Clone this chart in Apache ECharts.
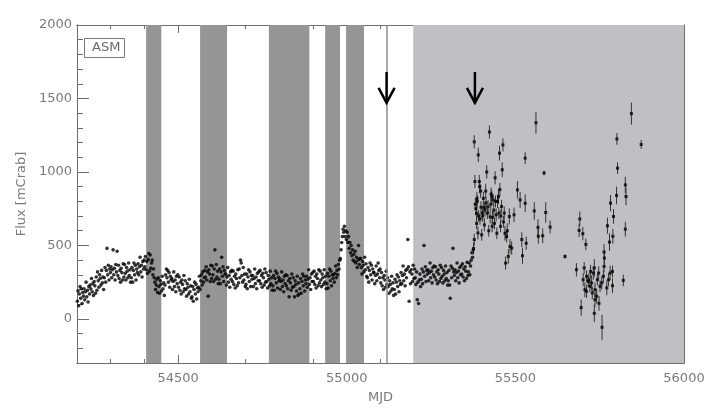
<!DOCTYPE html>
<html>
<head>
<meta charset="utf-8">
<script src="https://cdn.jsdelivr.net/npm/echarts@6/dist/echarts.min.js"></script>
<style>html,body{margin:0;padding:0;background:#fff}#c{width:708px;height:415px}</style>
</head>
<body>
<div id="c"></div>
<script>
// ---------- data ----------
// ASM light curve (one value every asmStep days starting at asmStart)
const asmStart = 54201, asmStep = 2;
const asmFlux = [
120,190,90,170,220,140,205,105,180,155,
205,130,185,250,150,195,115,220,170,230,
205,275,185,240,160,255,225,175,285,195,
320,260,215,300,275,230,330,245,285,200,
280,350,250,330,480,300,365,265,340,315,
355,280,335,470,300,345,265,370,320,460,
295,365,275,330,250,345,315,265,375,285,
370,310,265,350,325,280,380,295,335,250,
280,350,250,330,380,300,365,265,340,315,
375,300,355,420,320,365,285,390,340,400,
355,425,335,390,310,405,445,325,435,345,
380,400,300,340,280,250,200,230,270,180,
280,220,175,260,235,190,290,205,245,160,
230,300,340,280,330,250,315,215,290,265,
275,200,255,320,220,265,185,290,240,300,
215,285,195,250,170,265,235,185,295,205,
260,200,155,240,215,170,270,185,225,140,
150,220,120,200,250,170,235,135,210,185,
215,290,200,260,300,230,320,250,280,330,
285,355,265,320,155,335,305,255,365,275,
360,300,255,340,470,270,370,285,325,240,
270,340,240,320,420,290,355,255,330,305,
305,230,285,350,250,295,215,320,270,330,
255,325,235,290,210,305,275,225,335,245,
340,280,400,380,295,250,350,265,305,220,
235,305,205,285,335,255,320,220,295,270,
295,220,275,340,240,285,205,310,260,320,
260,330,240,295,215,310,280,230,340,250,
315,255,210,295,270,225,325,240,280,195,
225,295,195,275,325,245,310,210,285,260,
275,200,255,320,220,265,185,290,240,300,
225,295,205,260,150,275,245,195,305,215,
280,220,150,260,235,190,290,160,245,170,
205,275,175,255,305,225,290,190,265,240,
290,215,270,335,235,280,200,305,255,315,
255,325,235,290,210,305,275,225,335,245,
325,265,220,305,280,235,335,250,290,205,
240,310,210,290,340,260,325,225,300,275,
300,250,310,360,280,330,300,370,340,400,
410,470,520,560,610,590,630,560,600,540,
590,520,560,480,520,450,500,430,470,400,
440,390,460,380,420,350,400,500,370,410,
410,350,305,390,365,320,420,335,375,290,
280,350,250,330,380,300,365,265,340,315,
315,240,295,360,260,305,380,330,280,340,
245,315,225,280,200,295,265,215,325,235,
280,220,175,260,235,190,290,205,245,160,
200,270,170,250,300,220,285,185,260,235,
315,240,295,360,260,305,225,330,280,340,
540,355,120,320,240,335,305,255,365,275,
340,280,235,320,130,250,105,265,305,220,
270,340,240,320,500,290,355,255,330,305,
335,260,315,380,280,325,245,350,300,360,
285,355,265,320,240,335,305,255,365,275,
350,290,245,330,305,260,360,275,315,230,
260,330,230,140,360,280,345,480,320,295,
335,260,315,380,280,325,245,350,300,360,
305,375,285,340,260,355,325,275,385,295,
320,380,300,360,400,450,420,470
];
// outburst points with errors
const flareMjd = [55376,55378,55378,55380,55381,55383,55385,55385,55386,55387,55389,55390,55391,55393,55394,55395,55397,55398,55400,55402,55403,55405,55407,55408,55410,55412,55413,55415,55417,55419,55421,55423,55425,55427,55428,55430,55431,55432,55434,55436,55438,55440,55441,55443,55445,55447,55450,55451,55453,55454,55456,55457,55459,55461,55463,55465,55467,55469,55471,55474,55476,55479,55482,55484,55489];
const flareFlux = [480,540,1205,935,780,750,718,650,820,800,585,1116,700,935,900,680,870,760,572,720,700,820,760,640,742,870,790,1000,720,763,600,1272,695,780,850,832,630,690,810,740,650,960,800,708,583,800,832,720,1128,880,630,700,765,1015,1184,660,720,583,380,560,600,425,697,493,482];
const flareErr = [40,40,45,45,40,45,45,40,45,40,45,50,40,45,45,40,45,40,40,45,40,45,40,45,45,50,40,45,40,45,40,45,45,40,45,45,40,45,40,45,40,45,40,45,40,45,50,40,50,45,40,45,45,50,45,40,45,50,45,40,50,50,55,50,45];
// later sparse points with errors
const lateMjd = [55496,55506,55514,55519,55521,55529,55529,55532,55556,55561,55567,55568,55581,55585,55590,55603,55647,55681,55689,55691,55695,55700,55701,55704,55706,55709,55711,55711,55716,55718,55721,55723,55726,55728,55731,55734,55734,55736,55736,55741,55743,55747,55748,55751,55756,55757,55761,55763,55763,55764,55771,55773,55776,55779,55781,55782,55788,55788,55789,55791,55800,55801,55803,55820,55826,55826,55828,55844,55873];
const lateFlux = [708,878,810,540,430,787,1094,515,735,1335,623,562,566,993,724,625,425,335,602,680,77,580,267,347,199,507,290,188,255,267,222,323,245,177,312,347,38,199,131,154,267,312,106,222,245,-57,290,357,455,414,211,634,267,523,312,788,323,226,562,697,840,1225,1026,262,912,611,833,1397,1187];
const lateErr = [50,60,55,50,55,60,40,45,60,75,55,50,50,15,70,45,15,45,45,50,55,45,45,40,50,40,40,45,40,45,40,45,50,45,45,60,60,50,50,50,40,45,50,40,45,85,45,40,55,45,50,55,45,60,50,55,40,50,50,50,60,40,40,40,55,50,60,75,30];
// shaded intervals and markers
const darkBands = [[54405,54450],[54565,54645],[54769,54889],[54936,54980],[54998,55051]];
const lightBand = [55197,56000];
const vLineMjd = 55118;
const arrowMjd = [55118, 55380];
const arrowTop = 1680, arrowTip = 1470;
// axes / ticks
const xMin = 54200, xMax = 56000, yMin = -300, yMax = 2000;
const xMajor = [54500,55000,55500,56000];
const xMinor = [54300,54400,54600,54700,54800,54900,55100,55200,55300,55400,55600,55700,55800,55900];
const yMajor = [0,500,1000,1500,2000];
const yMinor = [-200,-100,100,200,300,400,600,700,800,900,1100,1200,1300,1400,1600,1700,1800,1900];
const xTitle = 'MJD', yTitle = 'Flux [mCrab]', legendText = 'ASM';

// ---------- build ----------
const asmData = asmFlux.map((v,i)=>[asmStart + i*asmStep, v]);
const flareData = flareMjd.map((m,i)=>[m, flareFlux[i], flareErr[i]]);
const lateData = lateMjd.map((m,i)=>[m, lateFlux[i], lateErr[i]]);
const errData = flareData.concat(lateData);

const AX = '#6e6e6e', TXT = '#7a7a7a', FONT = 'DejaVu Sans';
function xAx(pos, ticks, len, labels){
  return {type:'value', position:pos, min:xMin, max:xMax,
    axisLine:{show:true, onZero:false, lineStyle:{color:AX, width:1}},
    axisTick:{show:true, inside:true, length:len, customValues:ticks, lineStyle:{color:AX}},
    axisLabel:{show:labels, customValues:ticks, color:TXT, fontFamily:FONT, fontSize:13, margin:9, formatter:v=>String(v)},
    splitLine:{show:false}};
}
function yAx(pos, ticks, len, labels){
  return {type:'value', position:pos, min:yMin, max:yMax,
    axisLine:{show:true, onZero:false, lineStyle:{color:AX, width:1}},
    axisTick:{show:true, inside:true, length:len, customValues:ticks, lineStyle:{color:AX}},
    axisLabel:{show:labels, customValues:ticks, color:TXT, fontFamily:FONT, fontSize:13, margin:5, formatter:v=>String(v)},
    splitLine:{show:false}};
}
const xAxes = [xAx('bottom', xMajor, 8, true), xAx('bottom', xMinor, 4, false), xAx('top', xMajor, 8, false), xAx('top', xMinor, 4, false)];
Object.assign(xAxes[0], {name:xTitle, nameLocation:'middle', nameGap:28, nameTextStyle:{color:TXT, fontFamily:FONT, fontSize:13}});
const yAxes = [yAx('left', yMajor, 12, true), yAx('left', yMinor, 6, false), yAx('right', yMajor, 12, false), yAx('right', yMinor, 6, false)];
Object.assign(yAxes[0], {name:yTitle, nameLocation:'middle', nameGap:38, nameTextStyle:{color:TXT, fontFamily:FONT, fontSize:13}});

const markAreaData = darkBands.map(b=>[{xAxis:b[0], itemStyle:{color:'#959595', opacity:1}},{xAxis:b[1]}])
  .concat([[{xAxis:lightBand[0], itemStyle:{color:'#bfc0c4', opacity:1}},{xAxis:lightBand[1]}]]);

const option = {
  animation:false,
  backgroundColor:'#ffffff',
  grid:{left:77, right:24, top:25, bottom:52, containLabel:false},
  xAxis:xAxes, yAxis:yAxes,
  graphic:[
    {type:'rect', left:84, top:38, shape:{width:40, height:19}, style:{fill:'#fff', stroke:'#777', lineWidth:1}, z:100},
    {type:'text', left:92, top:41, style:{text:legendText, fill:'#6a6a6a', font:'13px "DejaVu Sans"'}, z:101}
  ],
  series:[
    {type:'line', data:[], z:1, silent:true,
     markArea:{silent:true, label:{show:false}, data:markAreaData},
     markLine:{silent:true, symbol:'none', label:{show:false}, lineStyle:{color:'#8c8c8c', width:1.5, type:'solid'},
       data:[{xAxis:vLineMjd}]}},
    {type:'custom', z:3, silent:true, data:errData, encode:{x:0, y:1},
     renderItem:(p, api)=>{
       const x=api.value(0), v=api.value(1), e=api.value(2);
       const a=api.coord([x, v-e]), b=api.coord([x, v+e]);
       return {type:'line', shape:{x1:a[0], y1:a[1], x2:b[0], y2:b[1]}, style:{stroke:'#333', lineWidth:1}};
     }},
    {type:'scatter', z:4, silent:true, data:asmData, symbol:'circle', symbolSize:3.6, itemStyle:{color:'#000'}},
    {type:'scatter', z:4, silent:true, data:flareData, symbol:'rect', symbolSize:3, itemStyle:{color:'#000'}},
    {type:'scatter', z:4, silent:true, data:lateData, symbol:'rect', symbolSize:3, itemStyle:{color:'#000'}},
    {type:'custom', z:5, silent:true, data:arrowMjd.map(m=>[m, arrowTop, arrowTip]), encode:{x:0, y:1},
     renderItem:(p, api)=>{
       const x=api.value(0);
       const t=api.coord([x, api.value(1)]), s=api.coord([x, api.value(2)]);
       return {type:'group', children:[
         {type:'line', shape:{x1:t[0], y1:t[1], x2:s[0], y2:s[1]}, style:{stroke:'#000', lineWidth:2.5}},
         {type:'polyline', shape:{points:[[s[0]-8, s[1]-15],[s[0], s[1]],[s[0]+8, s[1]-15]]}, style:{stroke:'#000', lineWidth:2.5, fill:null}}
       ]};
     }}
  ]
};
const chart = echarts.init(document.getElementById('c'), null, {renderer:'canvas'});
chart.setOption(option);
</script>
</body>
</html>
